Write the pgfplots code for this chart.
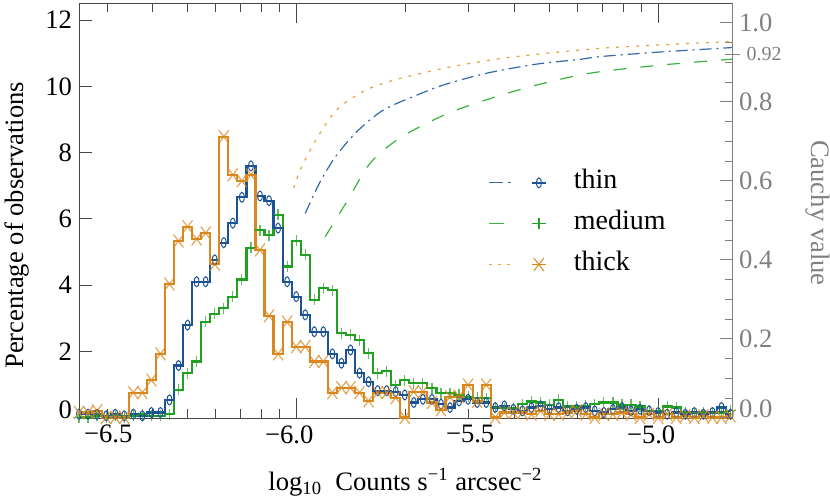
\documentclass[border=0pt]{standalone}
\usepackage{fontspec}
\setmainfont{Liberation Serif}
\usepackage{pgfplots}
\pgfplotsset{compat=1.18}
\usepackage{pgfplotstable}

\definecolor{cblue}{RGB}{28,82,150}
\definecolor{cgreen}{RGB}{34,160,34}
\definecolor{corange}{RGB}{218,135,30}
\definecolor{lblue}{RGB}{55,105,170}
\definecolor{lgreen}{RGB}{60,180,60}
\definecolor{lorange}{RGB}{232,160,60}
\definecolor{axgray}{RGB}{128,128,128}
\definecolor{axdark}{RGB}{70,70,70}

\pgfplotstableread{
x thin medium thick
-6.600 0.10 0.00 0.15
-6.575 0.10 0.00 0.15
-6.550 0.10 0.05 0.20
-6.525 0.05 0.00 0.00
-6.500 0.10 0.05 0.00
-6.475 0.05 0.00 0.00
-6.450 0.10 0.05 0.75
-6.425 0.05 0.10 0.75
-6.400 0.15 0.05 1.13
-6.375 0.15 0.05 1.92
-6.350 0.53 0.10 4.03
-6.325 1.57 0.83 5.33
-6.300 2.79 1.34 5.76
-6.275 4.10 1.69 5.39
-6.250 4.10 2.89 5.57
-6.225 4.76 3.13 4.63
-6.200 5.28 3.30 8.48
-6.175 5.87 3.65 7.33
-6.150 6.65 4.17 7.15
-6.125 7.60 5.13 7.33
-6.100 6.69 5.66 5.06
-6.075 6.55 5.51 3.07
-6.050 5.72 6.12 1.92
-6.025 4.10 4.56 2.88
-6.000 3.65 5.34 2.14
-5.975 3.10 4.91 2.14
-5.950 2.59 3.55 1.69
-5.925 2.59 3.90 1.69
-5.900 1.92 3.85 0.75
-5.875 1.64 2.54 0.90
-5.850 2.04 2.50 0.90
-5.825 1.34 2.34 0.75
-5.800 1.08 1.94 0.50
-5.775 0.81 1.34 0.75
-5.750 0.81 1.40 0.75
-5.725 0.78 0.98 0.60
-5.700 0.68 1.13 0.00
-5.675 0.45 1.03 0.78
-5.650 0.55 1.03 0.78
-5.625 0.55 0.88 0.45
-5.600 0.40 0.73 0.23
-5.575 0.30 0.73 0.63
-5.550 0.50 0.68 0.63
-5.525 0.55 0.63 0.98
-5.500 0.45 0.60 0.48
-5.475 0.45 0.58 0.98
-5.450 0.30 0.30 0.00
-5.425 0.35 0.28 0.15
-5.400 0.25 0.28 0.15
-5.375 0.20 0.40 0.15
-5.350 0.30 0.48 0.10
-5.325 0.35 0.45 0.20
-5.300 0.25 0.38 0.10
-5.275 0.30 0.53 0.10
-5.250 0.20 0.33 0.15
-5.225 0.25 0.33 0.20
-5.200 0.30 0.35 0.10
-5.175 0.20 0.40 0.00
-5.150 0.15 0.45 0.10
-5.125 0.25 0.45 0.10
-5.100 0.30 0.38 0.15
-5.075 0.20 0.38 0.10
-5.050 0.25 0.33 0.00
-5.025 0.20 0.20 0.10
-5.000 0.15 0.20 0.00
-4.975 0.10 0.33 0.10
-4.950 0.15 0.30 0.00
-4.925 0.10 0.15 0.05
-4.900 0.15 0.15 0.00
-4.875 0.10 0.15 0.05
-4.850 0.15 0.15 0.00
-4.825 0.30 0.15 0.00
-4.800 0.10 0.20 0.05
}\hist

\pgfplotstableread{
x y
-5.975 0.517
-5.934 0.597
-5.888 0.665
-5.828 0.728
-5.759 0.779
-5.676 0.813
-5.594 0.842
-5.474 0.872
-5.336 0.895
-5.217 0.907
-5.161 0.914
-4.990 0.926
-4.830 0.935
-4.796 0.937
}\cthin

\pgfplotstableread{
x y
-5.920 0.458
-5.860 0.547
-5.796 0.644
-5.722 0.703
-5.640 0.745
-5.557 0.779
-5.446 0.813
-5.336 0.842
-5.189 0.872
-5.000 0.892
-4.803 0.907
-4.796 0.907
}\cmedium

\pgfplotstableread{
x y
-6.007 0.581
-5.989 0.627
-5.961 0.678
-5.920 0.741
-5.888 0.779
-5.851 0.806
-5.796 0.834
-5.713 0.859
-5.567 0.889
-5.429 0.910
-5.291 0.924
-5.161 0.935
-4.990 0.944
-4.803 0.952
-4.796 0.952
}\cthick

\begin{document}
\begin{tikzpicture}[font=\fontsize{13}{15}\selectfont]
\useasboundingbox (-39.5pt,-39.85pt) rectangle (375.5pt,209.15pt);
\begin{axis}[
  at={(0pt,0pt)}, anchor=south west,
  scale only axis, width=326.5pt, height=207.5pt,
  xmin=-6.6, xmax=-4.796, ymin=-0.025, ymax=12.51,
  axis line style={axdark},
  every tick/.style={axdark},
  tick align=inside,
  ytick pos=left,
  major tick length=10pt,
  minor tick length=4.5pt,
  xtick={-6,-5}, xticklabels={},
  extra x ticks={-6.5,-6,-5.5,-5},
  extra x tick labels={−6.5\kern7pt,−6.0\kern7pt,−5.5\kern7pt,−5.0\kern7pt},
  extra x tick style={major tick length=0pt},
  minor xtick={-6.5229,-6.3979,-6.3010,-6.2218,-6.1549,-6.0969,-6.0458,
               -5.6990,-5.5229,-5.3979,-5.3010,-5.2218,-5.1549,-5.0969,-5.0458},
  ytick=\empty,
  extra y ticks={0,2,4,6,8,10,12},
  extra y tick labels={\raisebox{3.8pt}[\height][\depth]{0},2,4,6,8,10,12},
  extra y tick style={major tick length=6.3pt},
  minor ytick={1,3,5,7,9,11},
  tick label style={font=\fontsize{13.3}{15}\selectfont},
  label style={font=\fontsize{13.3}{15}\selectfont},
  ylabel={Percentage of observations},
  ylabel style={at={(axis description cs:-0.095,0.465)}, anchor=center},
  xlabel={log\textsubscript{10}\ \ Counts s\textsuperscript{−1} arcsec\textsuperscript{−2}},
  xlabel style={at={(axis description cs:0.5,-0.1535)}, anchor=center},
  clip=true,
]
\addplot[cgreen, line width=1.1pt, const plot mark mid, mark=+,
  mark options={solid, line width=0.6pt, draw opacity=0.7, mark size=2.75pt}]
  table[x=x, y=medium] {\hist};
\addplot[cblue, line width=1.1pt, const plot mark mid, mark=o,
  mark options={solid, line width=0.5pt, mark size=2.5pt, xscale=0.5}]
  table[x=x, y=thin] {\hist};
\addplot[corange, line width=1.1pt, const plot mark mid, mark=x,
  mark options={solid, line width=0.6pt, draw opacity=0.75, mark size=3.5pt, yscale=1.3}]
  table[x=x, y=thick] {\hist};
\end{axis}

\begin{axis}[
  at={(0pt,0pt)}, anchor=south west,
  scale only axis, width=326.5pt, height=207.5pt,
  xmin=-6.6, xmax=-4.796, ymin=-0.0015, ymax=1.049,
  axis x line=none,
  axis y line*=right,
  y axis line style={axgray, -},
  every tick/.style={axgray},
  tick align=inside,
  major tick length=6.2pt,
  minor tick length=3.7pt,
  ytick={0,0.2,0.4,0.6,0.8,1.0},
  yticklabels={\raisebox{4.2pt}[\height][\depth]{0.0},0.2,0.4,0.6,0.8,1.0},
  minor y tick num=3,
  extra y ticks={0.92},
  extra y tick labels={0.92},
  extra y tick style={tick align=center, major tick length=7.5pt,
     yticklabel style={font=\fontsize{10}{12}\selectfont}},
  yticklabel style={text=axgray},
  tick label style={font=\fontsize{13.3}{15}\selectfont},
  ylabel={Cauchy value},
  ylabel style={at={(axis description cs:1.132,0.495)}, anchor=center,
     rotate=180, text=axgray, font=\fontsize{13.3}{15}\selectfont},
  legend style={draw=none, fill=none, at={(axis description cs:0.617,0.469)},
     anchor=west, font=\fontsize{14}{16}\selectfont,
     nodes={inner sep=0pt, text height=9pt, text depth=3pt},
     row sep=8.4pt},
  legend cell align=left,
  clip=true,
]
\addlegendimage{legend image code/.code={
  \draw[lblue, line width=0.6pt, dash pattern=on 7pt off 2.5pt on 1.5pt off 2.5pt] (0pt,0pt) -- (13pt,0pt);
  \draw[cblue, line width=0.8pt, solid] (21.5pt,0pt) -- (28.5pt,0pt);
  \draw[cblue, line width=0.5pt, solid] (25pt,0pt) ellipse (1.25pt and 2.5pt);
  \path[draw=none] (0pt,0pt) -- (42.5pt,0pt);}}
\addlegendentry{thin}
\addlegendimage{legend image code/.code={
  \draw[lgreen, line width=0.6pt] (0pt,0pt) -- (7.5pt,0pt);
  \draw[cgreen, line width=0.8pt, solid] (21.5pt,0pt) -- (28.5pt,0pt);
  \draw[cgreen, line width=0.6pt, solid] (25pt,-2.75pt) -- (25pt,2.75pt);
  \path[draw=none] (0pt,0pt) -- (42.5pt,0pt);}}
\addlegendentry{medium}
\addlegendimage{legend image code/.code={
  \draw[lorange, line width=0.6pt, dash pattern=on 1.5pt off 3pt] (0pt,0pt) -- (13pt,0pt);
  \draw[corange, line width=0.8pt, solid] (21.5pt,0pt) -- (28.5pt,0pt);
  \draw[corange, line width=0.5pt, solid] (22.5pt,-3.2pt) -- (27.5pt,3.2pt) (22.5pt,3.2pt) -- (27.5pt,-3.2pt);
  \path[draw=none] (0pt,0pt) -- (42.5pt,0pt);}}
\addlegendentry{thick}

\addplot[lblue, line width=0.6pt, smooth, tension=0.5, dash pattern=on 6pt off 2.5pt on 1pt off 2.5pt, forget plot]
  table[x=x, y=y] {\cthin};
\addplot[lgreen, line width=0.6pt, smooth, tension=0.5, dash pattern=on 6.5pt off 7pt, forget plot]
  table[x=x, y=y] {\cmedium};
\addplot[lorange, line width=0.6pt, smooth, tension=0.5, dash pattern=on 1.5pt off 3.5pt, forget plot]
  table[x=x, y=y] {\cthick};
\end{axis}
\end{tikzpicture}
\end{document}
